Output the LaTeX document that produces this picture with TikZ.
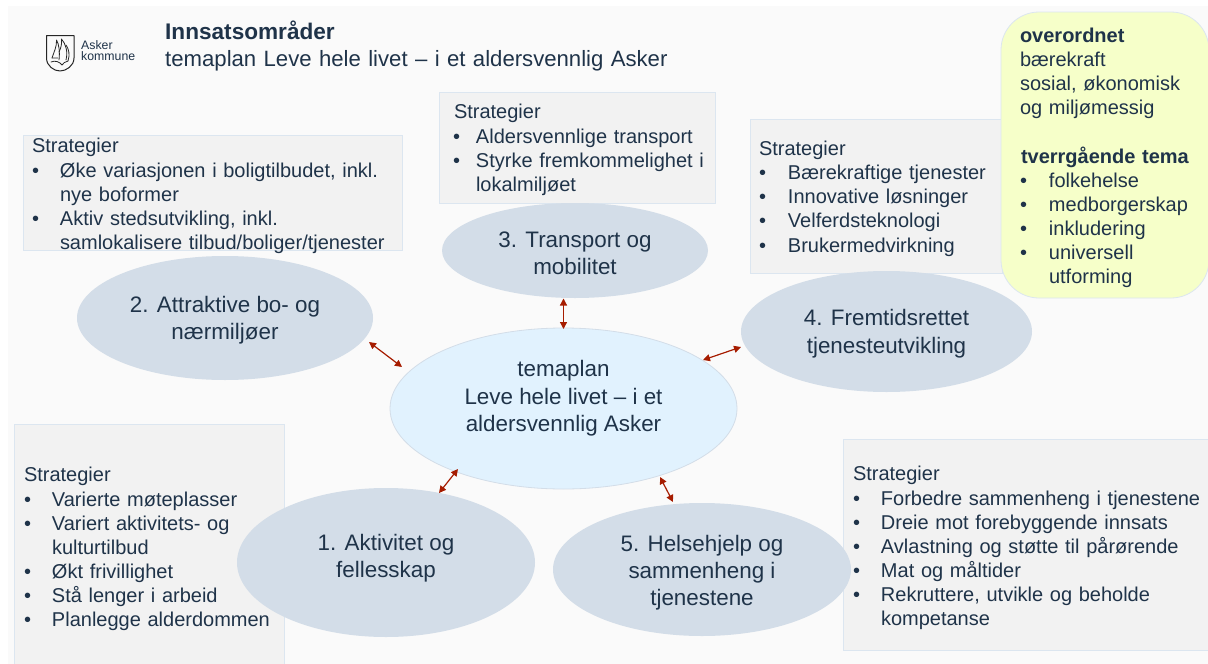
\documentclass[tikz,border=0pt]{standalone}
\usepackage{fontspec}
\setmainfont{Liberation Sans}
\usetikzlibrary{arrows.meta,shapes.geometric}
\definecolor{ink}{HTML}{1F3349}
\definecolor{pagebg}{HTML}{FAFAFA}
\definecolor{oval}{HTML}{D3DDE8}
\definecolor{core}{HTML}{E1F2FE}
\definecolor{boxfill}{HTML}{F2F2F2}
\definecolor{boxline}{HTML}{DCE6F0}
\definecolor{lemon}{HTML}{F6FFC9}
\definecolor{link}{HTML}{A61C00}
\newcommand{\Bul}[2][28pt]{\par\hangindent=#1\hangafter=1\noindent\makebox[#1][l]{•}#2\par}
\newcommand{\Brk}{\hfil\break}
\newcommand{\Lift}[1]{\rule{0pt}{#1}}
\tikzset{
  x=1pt,y=-1pt,
  stratbox/.style={draw=boxline,fill=boxfill,line width=0.8pt,anchor=north west,inner sep=0pt,outer sep=0pt},
  strattext/.style={anchor=north west,inner sep=0pt,outer sep=0pt,text=ink,align=left,
    font=\fontsize{20}{24.15}\selectfont},
  theme/.style={ellipse,fill=oval,inner sep=0pt,text=ink,align=center,
    font=\fontsize{22.4}{27.2}\selectfont},
  hub/.style={theme,fill=core,draw=oval,line width=0.8pt},
  twoway/.style={{Triangle[width=7pt,length=7pt]}-{Triangle[width=7pt,length=7pt]},draw=link,line width=1.2pt},
  logoline/.style={draw=black!85,line width=1pt,line join=round,line cap=round},
}
\begin{document}
\begin{tikzpicture}
\useasboundingbox (0,0) rectangle (1208,664);
\fill[white] (0,0) rectangle (1208,664);
\fill[pagebg] (8,6) rectangle (1208,664);

% logo
\draw[logoline] (46.5,35.5) -- (74,35.5) -- (74,58) .. controls (74,66) and (66,71) .. (60,71) .. controls (54,71) and (46.5,66) .. (46.5,58) -- cycle;
\draw[logoline,line width=0.8pt] (52,58) .. controls (54,52) and (57,46) .. (56.5,40) .. controls (59,44) and (60,52) .. (59,60);
\draw[logoline,line width=0.8pt] (59,52) .. controls (61,48) and (62,44) .. (61.5,39) .. controls (66,44) and (68,52) .. (66,60);
\draw[logoline,line width=0.8pt] (66,45) .. controls (69,49) and (70,55) .. (68,61);
\draw[logoline,line width=0.8pt] (52,58) -- (58,58) (51,62) .. controls (55,60) and (60,62) .. (62,65) .. controls (63,63) and (65,62) .. (68,61);
\node[anchor=north west,inner sep=0pt,text=ink,align=left,font=\fontsize{12.3}{11.6}\selectfont,text width=70pt] (logotext) at (81,40) {Asker\\kommune};

% title
\node[anchor=north west,inner sep=0pt,text=ink,align=left,text width=560pt,font=\fontsize{22.15}{27}\selectfont] (title) at (165,21)
  {\fontsize{22.6}{27}\selectfont\textbf{Innsatsområder}\\\fontsize{22.15}{27}\selectfont temaplan Leve hele livet – i et aldersvennlig Asker};

% strategy boxes
\node[stratbox,minimum width=379pt,minimum height=115pt] (b2) at (23,135) {};
\node[strattext,text width=372pt] (t2) at (32,136) {\strut Strategier
  \Bul{Øke variasjonen i boligtilbudet, inkl.\Brk nye boformer}
  \Bul{Aktiv stedsutvikling, inkl.\Brk samlokalisere tilbud/boliger/tjenester}};

\node[stratbox,minimum width=276pt,minimum height=111pt] (b3) at (439,92) {};
\node[strattext,text width=262pt] (t3) at (453,102) {\strut \hspace{1pt}Strategier
  \Bul[23pt]{Aldersvennlige transport}
  \Bul[23pt]{Styrke fremkommelighet i\Brk lokalmiljøet}};

\node[stratbox,minimum width=252pt,minimum height=154pt] (b4) at (750,119) {};
\node[strattext,text width=240pt] (t4) at (759,138.5) {\strut Strategier
  \Bul[29pt]{Bærekraftige tjenester}
  \Bul[29pt]{Innovative løsninger}
  \Bul[29pt]{Velferdsteknologi}
  \Bul[29pt]{Brukermedvirkning}};

\node[stratbox,minimum width=270pt,minimum height=240pt] (b1) at (14,424) {};
\node[strattext,text width=258pt] (t1) at (24,465) {\strut Strategier
  \Bul{Varierte møteplasser}
  \Bul{Variert aktivitets- og\Brk kulturtilbud}
  \Bul{Økt frivillighet}
  \Bul{Stå lenger i arbeid}
  \Bul{Planlegge alderdommen}};

\node[stratbox,minimum width=365pt,minimum height=211pt] (b5) at (843,439) {};
\node[strattext,text width=354pt] (t5) at (853,464) {\strut Strategier
  \Bul{Forbedre sammenheng i tjenestene}
  \Bul{Dreie mot forebyggende innsats}
  \Bul{Avlastning og støtte til pårørende}
  \Bul{Mat og måltider}
  \Bul{Rekruttere, utvikle og beholde\Brk kompetanse}};

% cross-cutting box
\node[stratbox,draw=boxline,fill=lemon,rounded corners=38pt,minimum width=208pt,minimum height=286pt] (cross) at (1001,12) {};
\node[strattext,text width=185pt] (crosstext) at (1020,25.5) {\strut\textbf{overordnet}\\bærekraft\\sosial, økonomisk\\og miljømessig\\[24.15pt]\textbf{\hspace{1pt}tverrgående tema}
  \Bul[29pt]{folkehelse}
  \Bul[29pt]{medborgerskap}
  \Bul[29pt]{inkludering}
  \Bul[29pt]{universell\Brk utforming}};

% themes
\node[theme,minimum width=296pt,minimum height=124pt] (e2) at (225,318) {\Lift{20.5pt}2. Attraktive bo- og\\nærmiljøer};
\node[theme,minimum width=266pt,minimum height=95pt] (e3) at (575,250.5) {\Lift{20.5pt}3. Transport og\\mobilitet};
\node[theme,minimum width=291pt,minimum height=121pt] (e4) at (886.5,331.5) {\Lift{20.5pt}4. Fremtidsrettet\\tjenesteutvikling};
\node[theme,minimum width=298pt,minimum height=149pt] (e1) at (386,562.5) {1. Aktivitet og\\fellesskap\\[-13.6pt]\mbox{}};
\node[theme,minimum width=298pt,minimum height=133pt] (e5) at (702,569.5) {\Lift{22.5pt}5. Helsehjelp og\\sammenheng i\\tjenestene};
\node[hub,minimum width=347pt,minimum height=161pt] (hub) at (563.5,408.5) {temaplan\\Leve hele livet – i et\\aldersvennlig Asker\\[-2pt]\mbox{}};

% connectors
\coordinate (a3) at (563.5,298.5); \coordinate (h3) at (563.5,329);
\coordinate (a2) at (369,342);     \coordinate (h2) at (402,367);
\coordinate (a4) at (741,347);     \coordinate (h4) at (703,360);
\coordinate (a1) at (439,493);     \coordinate (h1) at (458,469);
\coordinate (a5) at (673,502);     \coordinate (h5) at (660,477);
\draw[twoway] (a3) -- (h3);
\draw[twoway] (a2) -- (h2);
\draw[twoway] (a4) -- (h4);
\draw[twoway] (a1) -- (h1);
\draw[twoway] (a5) -- (h5);
\end{tikzpicture}
\end{document}
